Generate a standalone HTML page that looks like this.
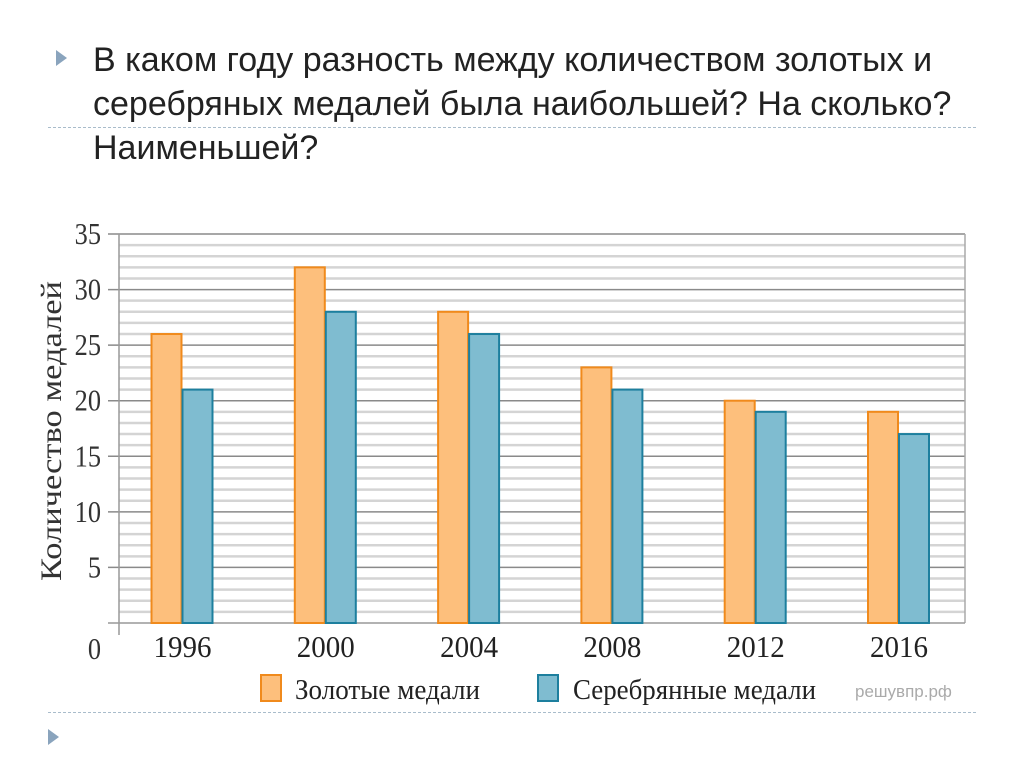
<!DOCTYPE html>
<html><head><meta charset="utf-8"><style>
body{margin:0;width:1024px;height:767px;background:#fff;overflow:hidden;position:relative;font-family:"Liberation Sans","DejaVu Sans",sans-serif}
.q{position:absolute;left:93px;top:38px;font-size:34px;line-height:44px;color:#222;white-space:nowrap}
.sep{position:absolute;left:48px;width:928px;border-top:1px dashed #a9bccb}
.tri{position:absolute;width:0;height:0;border-top:8px solid transparent;border-bottom:8px solid transparent;border-left:11px solid #8aa4bd}
</style></head><body>
<div class="tri" style="left:56px;top:50px"></div>
<div class="q">В каком году разность между количеством золотых и<br>серебряных медалей была наибольшей? На сколько?<br>Наименьшей?</div>
<div class="sep" style="top:127px"></div>
<div class="sep" style="top:712px"></div>
<div class="tri" style="left:48px;top:729px"></div>
<svg id="c" width="1024" height="767" style="position:absolute;left:0;top:0" font-family="Liberation Serif, serif"></svg>
<script>
const years=["1996","2000","2004","2008","2012","2016"];
const gold=[26,32,28,23,20,19];
const silver=[21,28,26,21,19,17];
const yTicks=[0,5,10,15,20,25,30,35];
const ns="http://www.w3.org/2000/svg";
const svg=document.getElementById('c');
const y0=623,y35=234,xl=119,xr=965;
function Y(v){return y0-(y0-y35)*v/35;}
function X(i){return 182.5+i*143.3;}
function mk(t,a,p){const e=document.createElementNS(ns,t);for(const k in a)e.setAttribute(k,a[k]);(p||svg).appendChild(e);return e;}
for(let v=1;v<35;v++){if(v%5){const l=mk('line',{x1:xl,x2:xr,y1:Y(v),y2:Y(v),stroke:'#d4d4d4','stroke-width':2.5});

}}
yTicks.forEach(v=>{if(v>0){const l=mk('line',{x1:108,x2:xr,y1:Y(v),y2:Y(v),stroke:'#8a8a8a','stroke-width':1.5});

}
const ty=v===0?659:Y(v)+10;
const t=mk('text',{x:101,y:ty,'text-anchor':'end','font-size':31,fill:'#333',transform:'translate(101,0) scale(0.85,1) translate(-101,0)'});t.textContent=v;

});
mk('line',{x1:xl,x2:xl,y1:y35,y2:635,stroke:'#999','stroke-width':1.5});
mk('line',{x1:xr,x2:xr,y1:y35,y2:y0,stroke:'#aaa','stroke-width':1.5});
mk('line',{x1:108,x2:xr,y1:y0,y2:y0,stroke:'#999','stroke-width':1.5});
years.forEach((yr,i)=>{
const g=mk('rect',{x:X(i)-31,y:Y(gold[i]),width:30,height:y0-Y(gold[i]),fill:'#fdbf7c',stroke:'#f08a1c','stroke-width':2});


const s=mk('rect',{x:X(i),y:Y(silver[i]),width:30,height:y0-Y(silver[i]),fill:'#7fbcd0',stroke:'#1d7f9e','stroke-width':2});


const t=mk('text',{x:X(i)-29,y:657,'font-size':31,fill:'#222',textLength:58,lengthAdjust:'spacingAndGlyphs'});t.textContent=yr;

});
const yt=mk('text',{x:0,y:0,'text-anchor':'middle','font-size':30,fill:'#333',textLength:300,lengthAdjust:'spacingAndGlyphs',transform:'translate(61,431) rotate(-90)'});yt.textContent='Количество медалей';


const lg=mk('rect',{x:261,y:675,width:20,height:26,fill:'#fdbf7c',stroke:'#f08a1c','stroke-width':2});


const lgt=mk('text',{x:295,y:699,'font-size':29,fill:'#222',textLength:185,lengthAdjust:'spacingAndGlyphs'});lgt.textContent='Золотые медали';


const ls=mk('rect',{x:538,y:675,width:20,height:26,fill:'#7fbcd0',stroke:'#1d7f9e','stroke-width':2});


const lst=mk('text',{x:573,y:699,'font-size':29,fill:'#222',textLength:243,lengthAdjust:'spacingAndGlyphs'});lst.textContent='Серебрянные медали';


const wm=mk('text',{x:855,y:697,'font-size':17,fill:'#aaa','font-family':'Liberation Sans, sans-serif'});wm.textContent='решувпр.рф';


</script>
</body></html>
